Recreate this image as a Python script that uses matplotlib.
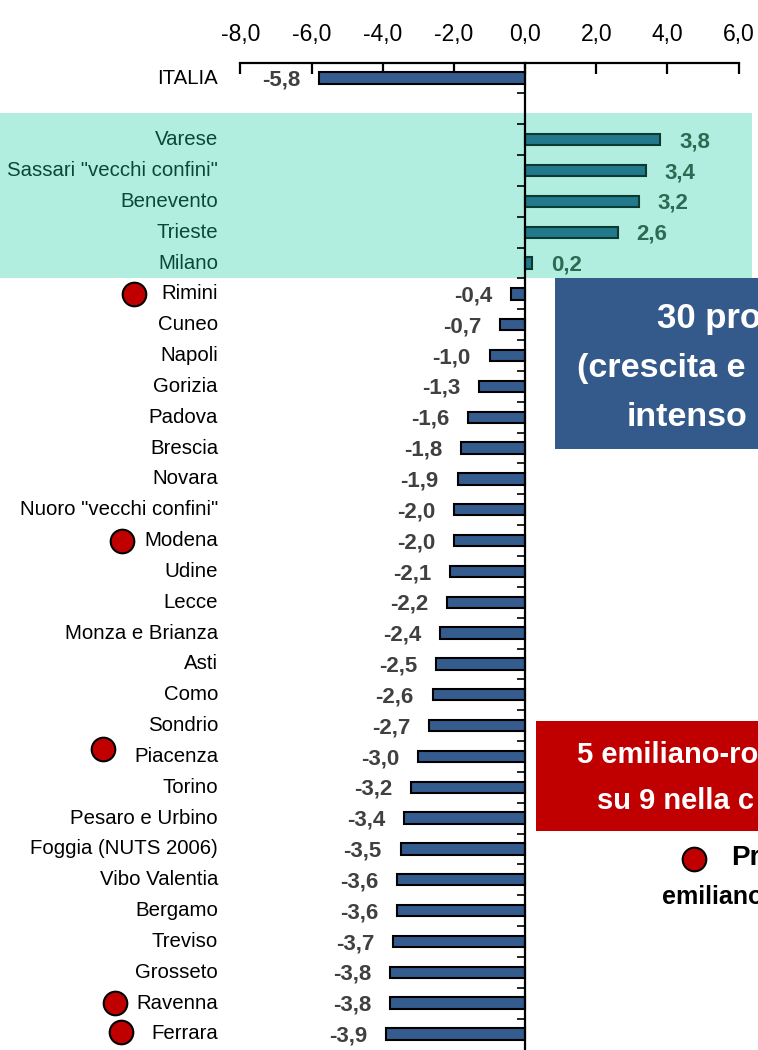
import numpy as np
import matplotlib
matplotlib.use("Agg")
import matplotlib.pyplot as plt
import matplotlib.transforms as mtransforms
from matplotlib.patches import Rectangle

plt.rcParams["font.family"] = ["Liberation Sans Narrow", "Liberation Sans", "DejaVu Sans"]

# ---------------------------------------------------------
# Data
# ---------------------------------------------------------
italia_label = "ITALIA"
italia_value = -5.8

top_labels = ["Varese", 'Sassari "vecchi confini"', "Benevento", "Trieste", "Milano"]
top_values = [3.8, 3.4, 3.2, 2.6, 0.2]

rest_labels = [
    "Rimini", "Cuneo", "Napoli", "Gorizia", "Padova", "Brescia", "Novara",
    'Nuoro "vecchi confini"', "Modena", "Udine", "Lecce", "Monza e Brianza",
    "Asti", "Como", "Sondrio", "Piacenza", "Torino", "Pesaro e Urbino",
    "Foggia (NUTS 2006)", "Vibo Valentia", "Bergamo", "Treviso", "Grosseto",
    "Ravenna", "Ferrara",
]
rest_values = [
    -0.4, -0.7, -1.0, -1.3, -1.6, -1.8, -1.9, -2.0, -2.0, -2.1, -2.2, -2.4,
    -2.5, -2.6, -2.7, -3.0, -3.2, -3.4, -3.5, -3.6, -3.6, -3.7, -3.8, -3.8, -3.9,
]

emilia_romagna = ["Rimini", "Modena", "Piacenza", "Ravenna", "Ferrara"]
x_ticks = [-8, -6, -4, -2, 0, 2, 4, 6]

# ---------------------------------------------------------
# Layout helpers (pixels of the 758x1050 canvas)
# ---------------------------------------------------------
W, H = 758, 1050


def fx(px):
    return px / W


def fy(py):
    return 1 - py / H


def fmt(v):
    return "{:.1f}".format(v).replace(".", ",")


BLUE = "#355C8E"
TEAL = "#22798B"
TEAL_EDGE = "#0A3A30"
GREEN_BG = "#B2EEE0"
GREEN_TXT = "#0C4636"
GREEN_VAL = "#2D6A54"
GRAY_VAL = "#404040"
RED = "#C00000"

fig = plt.figure(figsize=(W / 100, H / 100), dpi=100)
ax = fig.add_axes([fx(240.5), fy(1049.4), fx(738.6) - fx(240.5), fy(62.6) - fy(1049.4)])
ax.patch.set_visible(False)

# highlighted band behind the positive provinces
fig.patches.append(Rectangle((0, fy(278)), fx(752), fy(113) - fy(278),
                             transform=fig.transFigure, facecolor=GREEN_BG,
                             edgecolor="none", zorder=-1))

# row positions: ITALIA, empty row, top 5, rest
pos_italia = 0
pos_top = np.arange(2, 2 + len(top_values))
pos_rest = np.arange(pos_top[-1] + 1, pos_top[-1] + 1 + len(rest_values))

bar_h = 0.37
ax.barh(pos_italia, italia_value, height=bar_h, color=BLUE, edgecolor="black", linewidth=1.5, zorder=3)
ax.barh(pos_top, top_values, height=bar_h, color=TEAL, edgecolor=TEAL_EDGE, linewidth=1.5, zorder=3)
ax.barh(pos_rest, rest_values, height=bar_h, color=BLUE, edgecolor="black", linewidth=1.5, zorder=3)

ax.set_xlim(-8, 6)
ax.set_ylim(31.5, -0.5)

# axes styling
for s in ["right", "bottom"]:
    ax.spines[s].set_visible(False)
ax.spines["top"].set_linewidth(1.6)
ax.spines["left"].set_position(("data", 0))
ax.spines["left"].set_linewidth(1.6)
ax.spines["left"].set_zorder(4)

ax.xaxis.tick_top()
ax.set_xticks(x_ticks)
ax.set_xticklabels([fmt(v) for v in x_ticks])
ax.tick_params(axis="x", direction="in", length=8, width=1.6, pad=12, labelsize=16.5)

ax.set_yticks(np.arange(0.5, 31, 1))
ax.set_yticklabels([])
ax.tick_params(axis="y", direction="out", length=6, width=1.2)

# category labels and value labels
lab_tr = mtransforms.blended_transform_factory(fig.transFigure, ax.transData)
all_labels = [(italia_label, pos_italia, italia_value, "black", GRAY_VAL)]
all_labels += [(l, p, v, GREEN_TXT, GREEN_VAL) for l, p, v in zip(top_labels, pos_top, top_values)]
all_labels += [(l, p, v, "black", GRAY_VAL) for l, p, v in zip(rest_labels, pos_rest, rest_values)]

for label, p, v, c_lab, c_val in all_labels:
    ax.text(fx(218), p, label, transform=lab_tr, ha="right", va="center", fontsize=14.7, color=c_lab)
    off = 13.5 if v > 0 else -13.5
    ax.annotate(fmt(v), xy=(v, p), xytext=(off, -1.5), textcoords="offset points",
                ha="left" if v > 0 else "right", va="center",
                fontsize=16, fontweight="bold", color=c_val)

# red dots for emilia-romagna provinces (placed by hand as in the original)
dot_px = {"Rimini": (134, 0), "Modena": (122, 0), "Piacenza": (103, -0.24),
          "Ravenna": (115, 0), "Ferrara": (121, -0.05)}
for name in emilia_romagna:
    p = pos_rest[rest_labels.index(name)]
    x_px, dy = dot_px[name]
    ax.plot(fx(x_px), p + dy, marker="o", ms=17, mfc=RED, mec="black", mew=1.5,
            transform=lab_tr, clip_on=False)

# annotation boxes on the right (cut off at the canvas edge, as in the original)
fig.patches.append(Rectangle((fx(555), fy(449)), fx(W) - fx(555) + 0.01, fy(278) - fy(449),
                             transform=fig.transFigure, facecolor="#345A8C",
                             edgecolor="none", zorder=5))
fig.text(fx(657), fy(318), "30 pro", fontsize=25, fontweight="bold", color="white",
         ha="left", va="center", zorder=6)
fig.text(fx(577), fy(368), "(crescita e", fontsize=24.5, fontweight="bold", color="white",
         ha="left", va="center", zorder=6)
fig.text(fx(627), fy(417), "intenso", fontsize=24.5, fontweight="bold", color="white",
         ha="left", va="center", zorder=6)

fig.patches.append(Rectangle((fx(536), fy(831)), fx(W) - fx(536) + 0.01, fy(721) - fy(831),
                             transform=fig.transFigure, facecolor=RED,
                             edgecolor="none", zorder=5))
fig.text(fx(577), fy(755), "5 emiliano-ro", fontsize=21, fontweight="bold", color="white",
         ha="left", va="center", zorder=6)
fig.text(fx(597), fy(801), "su 9 nella c", fontsize=21, fontweight="bold", color="white",
         ha="left", va="center", zorder=6)

fig.lines.append(plt.Line2D([fx(694)], [fy(859)], marker="o", ms=17, mfc=RED, mec="black",
                            mew=1.5, transform=fig.transFigure))
fig.text(fx(731), fy(858), "Pr", fontsize=20, fontweight="bold", color="black",
         ha="left", va="center")
fig.text(fx(662), fy(897), "emiliano", fontsize=18, fontweight="bold", color="black",
         ha="left", va="center")

fig.savefig("out.png", dpi=100)
